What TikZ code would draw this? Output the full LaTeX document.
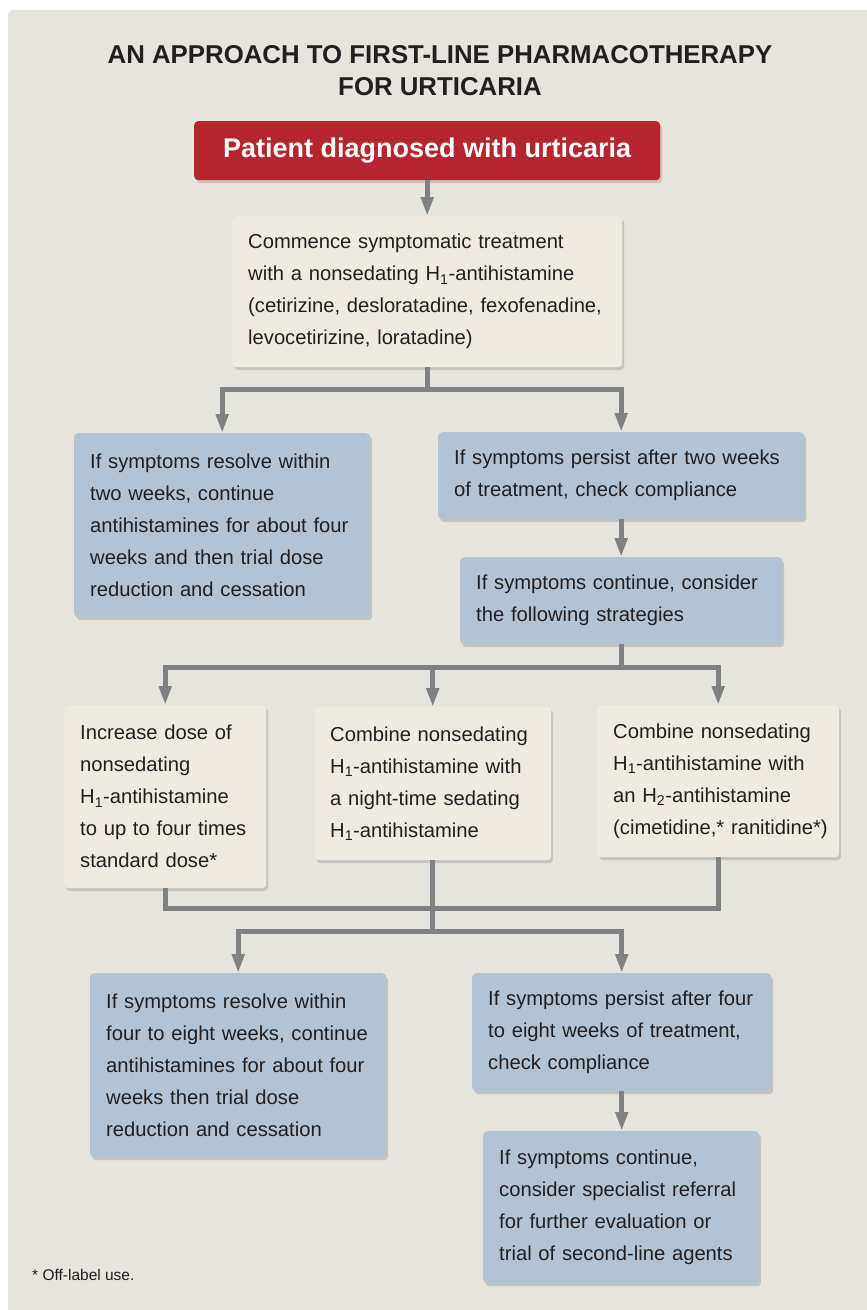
\documentclass[tikz,border=0pt]{standalone}
\usepackage{fontspec}
\setmainfont{Liberation Sans}
\usetikzlibrary{arrows.meta,shadows}
\definecolor{panel}{HTML}{E5E4DD}
\definecolor{cream}{HTML}{EFEBE1}
\definecolor{bluebox}{HTML}{B3C3D4}
\definecolor{redbox}{HTML}{B5252D}
\definecolor{arrowgray}{HTML}{808185}
\definecolor{ink}{HTML}{231F20}
\newcommand\bodyfont{\fontsize{20.2}{32}\selectfont\hyphenpenalty=10000\exhyphenpenalty=10000\hbadness=10000\hfuzz=50pt}
\begin{document}
\begin{tikzpicture}[x=1pt,y=-1pt,
  box/.style={rounded corners=4pt, anchor=north west, inner xsep=16pt, inner ysep=0pt,
    align=left, font=\bodyfont, text=ink,
    drop shadow={opacity=0.14, shadow xshift=2pt, shadow yshift=-3pt, fill=black}},
  creambox/.style={box, fill=cream},
  bluebx/.style={box, fill=bluebox},
  conn/.style={draw=arrowgray, line width=5pt},
  arr/.style={conn, -{Triangle[length=19pt,width=12pt]}}
]
\clip (0,0) rectangle (867,1310);
\fill[white] (0,0) rectangle (867,1310);
\fill[panel, rounded corners=5pt] (8,10) rectangle (900,1340);

\node[align=center, text=ink, font=\fontsize{25.8}{32}\selectfont\bfseries] (title) at (440,71)
  {AN APPROACH TO FIRST-LINE PHARMACOTHERAPY\\FOR URTICARIA};

\node[rounded corners=4pt, anchor=north west, fill=redbox, text=white, inner sep=0pt,
  minimum width=466pt, minimum height=59pt, font=\fontsize{27}{30}\selectfont\bfseries,
  drop shadow={opacity=0.14, shadow xshift=2pt, shadow yshift=-3pt, fill=black}]
  (start) at (194,121) {Patient diagnosed with urticaria};

\node[creambox, minimum width=390pt, minimum height=151pt, text width=358pt] (b2) at (232,216)
  {Commence symptomatic treatment\\ with a nonsedating H\textsubscript{1}-antihistamine\\ (cetirizine, desloratadine, fexofenadine,\\ levocetirizine, loratadine)};

\node[bluebx, minimum width=296pt, minimum height=184pt, text width=264pt] (b3) at (74,433)
  {If symptoms resolve within\\ two weeks, continue\\ antihistamines for about four\\ weeks and then trial dose\\ reduction and cessation};

\node[bluebx, minimum width=366pt, minimum height=87pt, text width=334pt] (b4) at (438,432)
  {If symptoms persist after two weeks\\ of treatment, check compliance};

\node[bluebx, minimum width=322pt, minimum height=87pt, text width=290pt] (b5) at (460,557)
  {If symptoms continue, consider\\ the following strategies};

\node[creambox, minimum width=202pt, minimum height=183pt, text width=170pt] (b6) at (64,705)
  {Increase dose of\\ nonsedating\\ H\textsubscript{1}-antihistamine\\ to up to four times\\ standard dose*};

\node[creambox, minimum width=237pt, minimum height=153pt, text width=205pt] (b7) at (314,707)
  {Combine nonsedating\\ H\textsubscript{1}-antihistamine with\\ a night-time sedating\\ H\textsubscript{1}-antihistamine};

\node[creambox, minimum width=242pt, minimum height=152pt, text width=210pt] (b8) at (597,705)
  {Combine nonsedating\\ H\textsubscript{1}-antihistamine with\\ an H\textsubscript{2}-antihistamine\\ (cimetidine,*~ranitidine*)};

\node[bluebx, minimum width=296pt, minimum height=184pt, text width=264pt] (b9) at (90,973)
  {If symptoms resolve within\\ four to eight weeks, continue\\ antihistamines for about four\\ weeks then trial dose\\ reduction and cessation};

\node[bluebx, minimum width=299pt, minimum height=118pt, text width=267pt] (b10) at (472,973)
  {If symptoms persist after four\\ to eight weeks of treatment,\\ check compliance};

\node[bluebx, minimum width=276pt, minimum height=152pt, text width=244pt] (b11) at (483,1131)
  {If symptoms continue,\\ consider specialist referral\\ for further evaluation or\\ trial of second-line agents};

\node[anchor=base west, text=ink, inner sep=0pt, font=\fontsize{15.5}{18}\selectfont] (foot) at (32,1280)
  {* Off-label use.};

% connectors
\draw[arr] (b2.north |- start.south) -- (b2.north);

\path (b2.south) ++(0,22) coordinate (j1);
\draw[conn] (b2.south) -- (j1);
\draw[arr] (j1) -| (b3.north);
\draw[arr] (j1) -| (b4.north);

\draw[arr] (b4.south) -- (b4.south |- b5.north);

\path (b5.south) ++(0,23) coordinate (j2);
\draw[conn] (b5.south) -- (j2);
\draw[arr] (j2) -| (b6.north);
\draw[arr] (j2) -| (b7.north);
\draw[arr] (j2) -| (b8.north);

\path (b7.south) ++(0,48) coordinate (j3);
\draw[conn] (b6.south) |- (j3) -| (b8.south);
\draw[conn] (b7.south) -- (j3);
\path (j3) ++(0,23) coordinate (j4);
\draw[conn] (j3) -- (j4);
\draw[arr] (j4) -| (b9.north);
\draw[arr] (j4) -| (b10.north);

\draw[arr] (b10.south) -- (b10.south |- b11.north);
\end{tikzpicture}
\end{document}
